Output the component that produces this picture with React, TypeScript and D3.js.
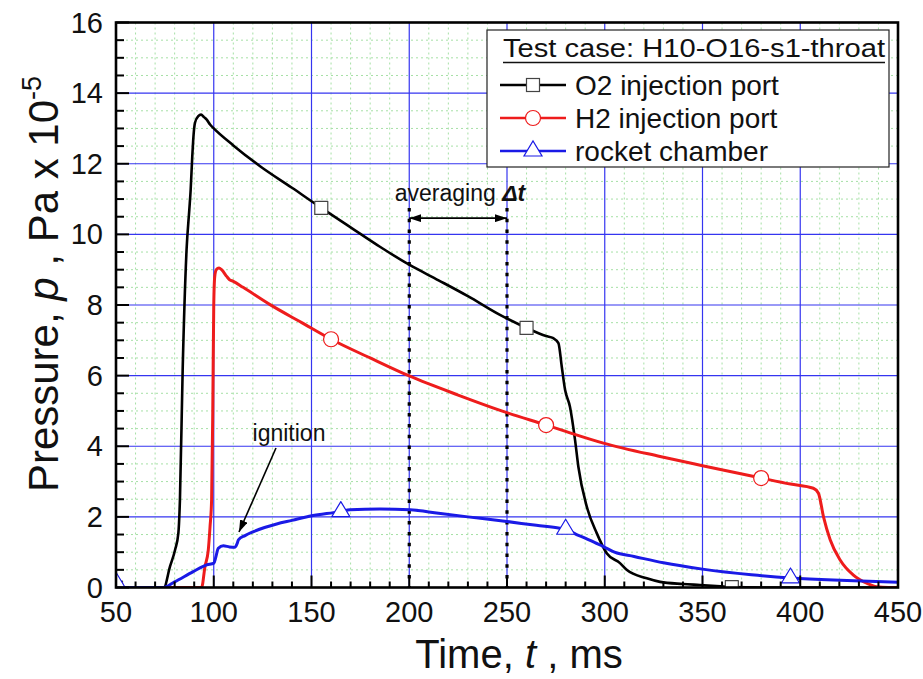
import React from "react";
import * as d3 from "d3";

// ---- data (time in ms, pressure in 1e5 Pa) ----
const o2Time = [50, 55, 60, 65, 70, 74.5, 77.6, 80.2, 81.9, 82.7, 84.1, 86.1, 87.5, 88.2, 89, 89.5, 90.4, 92.1, 93.5, 95, 96.4, 98.1, 100, 110, 123.7, 140, 155, 170, 185, 200, 215, 230, 246.4, 260, 270, 273.7, 276.3, 278, 279.7, 282.2, 284.8, 286.5, 290.8, 295.9, 301, 307.8, 311.2, 321.5, 328.3, 340, 348.7, 362.3, 365, 380, 400, 420, 450];
const o2Pres = [0, 0, 0, 0, 0, 0, 0.59, 1.06, 1.54, 2.48, 6.16, 9.57, 10.7, 11.27, 12.2, 12.68, 13.16, 13.35, 13.39, 13.32, 13.25, 13.11, 13.0, 12.52, 11.93, 11.32, 10.75, 10.2, 9.65, 9.14, 8.7, 8.25, 7.72, 7.35, 7.12, 7.06, 6.92, 6.26, 5.6, 5.12, 4.18, 3.42, 2.29, 1.54, 0.97, 0.69, 0.5, 0.26, 0.16, 0.1, 0.07, 0.02, 0.01, 0, 0, 0, 0];

const h2Time = [50, 60, 70, 80, 90, 93.8, 95.5, 97.2, 98.1, 98.9, 99.5, 100, 100.5, 101.3, 102.7, 104, 106.6, 108, 110, 115, 128.8, 145, 160, 180, 200, 225, 250, 270, 280, 299.3, 328.3, 350, 380, 395, 406.7, 409.3, 411.9, 415.3, 420.4, 427.2, 434, 439.1, 445, 450];
const h2Pres = [0, 0, 0, 0, 0, 0, 0.59, 1.06, 1.72, 2.48, 5.0, 8.0, 8.8, 9.0, 9.05, 9.0, 8.81, 8.72, 8.67, 8.5, 8.01, 7.5, 7.03, 6.5, 5.99, 5.45, 4.95, 4.6, 4.42, 4.09, 3.71, 3.45, 3.1, 2.93, 2.81, 2.67, 2.0, 1.35, 0.78, 0.35, 0.12, 0.02, 0, 0];

const rcTime = [50, 53.7, 60, 70, 74.2, 80, 89.5, 96.4, 100.1, 101, 102.3, 104.9, 108, 110.9, 112, 112.6, 116, 120.3, 126, 132.2, 140, 150.1, 161.2, 165, 169.7, 185, 200.4, 215, 230, 249.9, 265, 277, 280, 285.6, 290, 295, 299.3, 305, 315, 330, 350, 375, 395, 417, 435, 450];
const rcPres = [0.15, 0, 0, 0, 0, 0.16, 0.45, 0.64, 0.69, 0.85, 1.11, 1.18, 1.15, 1.14, 1.25, 1.35, 1.47, 1.58, 1.7, 1.8, 1.9, 2.03, 2.12, 2.15, 2.2, 2.22, 2.2, 2.1, 2.0, 1.87, 1.76, 1.68, 1.65, 1.5, 1.4, 1.27, 1.16, 1.0, 0.88, 0.7, 0.52, 0.36, 0.27, 0.21, 0.18, 0.15];

const o2Markers = [50, 155, 260, 365];
const h2Markers = [50, 160, 270, 380];
const rcMarkers = [50, 165, 280, 395];

const xTicks = [50, 100, 150, 200, 250, 300, 350, 400, 450];
const yTicks = [0, 2, 4, 6, 8, 10, 12, 14, 16];
const avgWindow = [200, 250];
const avgArrowP = 10.46;
const avgLineTopP = 10.75;

const legendTitle = "Test case: H10-O16-s1-throat";
const seriesNames = ["O2 injection port", "H2 injection port", "rocket chamber"];

const W = 923, H = 679;
const L = 116, R = 898, T = 22.5, B = 587.5;

const x = d3.scaleLinear().domain([50, 450]).range([L, R]);
const y = d3.scaleLinear().domain([0, 16]).range([B, T]);

function interp(ts: number[], ps: number[], t: number) {
  const i = d3.bisectLeft(ts, t);
  if (i <= 0) return ps[0];
  if (i >= ts.length) return ps[ps.length - 1];
  const t0 = ts[i - 1], t1 = ts[i];
  if (t1 === t0) return ps[i];
  return ps[i - 1] + ((ps[i] - ps[i - 1]) * (t - t0)) / (t1 - t0);
}

const line = d3
  .line<[number, number]>()
  .x((d) => x(d[0]))
  .y((d) => y(d[1]))
  .curve(d3.curveMonotoneX);

const BLACK = "#000000";
const RED = "#ee1c1c";
const BLUE = "#1a1ae6";

function Square({ cx, cy }: { cx: number; cy: number }) {
  return <rect x={cx - 6.5} y={cy - 6.5} width={13} height={13} fill="#fff" stroke="#444" strokeWidth={1.2} />;
}
function Circ({ cx, cy }: { cx: number; cy: number }) {
  return <circle cx={cx} cy={cy} r={7.5} fill="#fff" stroke={RED} strokeWidth={1.2} />;
}
function Tri({ cx, cy }: { cx: number; cy: number }) {
  const p = `${cx - 9},${cy + 5} ${cx + 9},${cy + 5} ${cx},${cy - 10}`;
  return <polygon points={p} fill="#fff" stroke={BLUE} strokeWidth={1.2} />;
}

export default function App() {
  const minorX = d3.range(60, 450, 10).filter((t) => t % 50 !== 0);
  const minorY = d3.range(0.5, 16, 0.5).filter((v) => v % 2 !== 0);
  const majorXGrid = xTicks.filter((t) => t > 50 && t < 450);
  const majorYGrid = yTicks.filter((v) => v > 0 && v < 16);

  const o2 = o2Time.map((t, i) => [t, o2Pres[i]] as [number, number]);
  const h2 = h2Time.map((t, i) => [t, h2Pres[i]] as [number, number]);
  const rc = rcTime.map((t, i) => [t, rcPres[i]] as [number, number]);

  const font = "Liberation Sans, Arial, sans-serif";

  const legX = 487, legY = 30, legW = 402, legH = 137;
  const rowY = [85, 118, 151];

  return (
    <svg width={W} height={H} style={{ position: "absolute", left: 0, top: 0, background: "#fff" }} fontFamily={font}>
      <defs>
        <clipPath id="plot">
          <rect x={L} y={T} width={R - L} height={B - T} />
        </clipPath>
        <marker id="ah" viewBox="0 0 12 8" refX="12" refY="4" markerWidth="12" markerHeight="8" markerUnits="userSpaceOnUse" orient="auto-start-reverse">
          <path d="M0,0 L12,4 L0,8 Z" fill="#000" />
        </marker>
      </defs>

      {/* minor grid */}
      <g stroke="#a6e0a6" strokeWidth={1} strokeDasharray="2,3">
        {minorX.map((t) => (
          <line key={"mx" + t} x1={x(t)} x2={x(t)} y1={T} y2={B} />
        ))}
        {minorY.map((v) => (
          <line key={"my" + v} x1={L} x2={R} y1={y(v)} y2={y(v)} />
        ))}
      </g>
      {/* major grid */}
      <g stroke="#3535f0" strokeWidth={1.2}>
        {majorXGrid.map((t) => (
          <line key={"gx" + t} x1={x(t)} x2={x(t)} y1={T} y2={B} />
        ))}
        {majorYGrid.map((v) => (
          <line key={"gy" + v} x1={L} x2={R} y1={y(v)} y2={y(v)} />
        ))}
      </g>

      {/* averaging window dotted lines */}
      <g stroke="#000" strokeWidth={3.2} strokeDasharray="3.5,7.3">
        {avgWindow.map((t) => (
          <line key={"av" + t} x1={x(t)} x2={x(t)} y1={y(avgLineTopP)} y2={B} />
        ))}
      </g>
      <line x1={x(avgWindow[0])} x2={x(avgWindow[1])} y1={y(avgArrowP)} y2={y(avgArrowP)} stroke="#000" strokeWidth={1.8} markerStart="url(#ah)" markerEnd="url(#ah)" />
      <text x={460} y={201} fontSize={23} textAnchor="middle" fill="#111">
        averaging <tspan fontWeight="bold" fontStyle="italic">Δt</tspan>
      </text>

      {/* curves */}
      <g clipPath="url(#plot)" fill="none" strokeLinejoin="round">
        <path d={line(o2) || ""} stroke={BLACK} strokeWidth={2.6} />
        <path d={line(h2) || ""} stroke={RED} strokeWidth={3} />
        <path d={line(rc) || ""} stroke={BLUE} strokeWidth={3} />
        {o2Markers.map((t) => (
          <Square key={"sq" + t} cx={x(t)} cy={y(interp(o2Time, o2Pres, t))} />
        ))}
        {h2Markers.map((t) => (
          <Circ key={"ci" + t} cx={x(t)} cy={y(interp(h2Time, h2Pres, t))} />
        ))}
        {rcMarkers.map((t) => (
          <Tri key={"tr" + t} cx={x(t)} cy={y(interp(rcTime, rcPres, t))} />
        ))}
      </g>

      {/* ignition annotation */}
      <text x={289} y={441} fontSize={23} textAnchor="middle" fill="#111">ignition</text>
      <line x1={276} y1={448} x2={239} y2={532} stroke="#000" strokeWidth={1.6} markerEnd="url(#ah)" />

      {/* ticks */}
      <g stroke="#000" strokeWidth={2}>
        {d3.range(50, 451, 10).map((t) => (
          <line key={"tx" + t} x1={x(t)} x2={x(t)} y1={B} y2={B - (t % 50 === 0 ? 12 : 6)} />
        ))}
        {d3.range(0, 16.01, 0.5).map((v) => (
          <line key={"ty" + v} x1={L} x2={L + (v % 2 === 0 ? 13 : 8)} y1={y(v)} y2={y(v)} />
        ))}
      </g>

      {/* frame */}
      <rect x={L} y={T} width={R - L} height={B - T} fill="none" stroke="#000" strokeWidth={2.6} />

      {/* tick labels */}
      <g fontSize={29} fill="#111">
        {xTicks.map((t) => (
          <text key={"lx" + t} x={x(t)} y={622} textAnchor="middle">{t}</text>
        ))}
        {yTicks.map((v) => (
          <text key={"ly" + v} x={103} y={y(v) + 10} textAnchor="end">{v}</text>
        ))}
      </g>

      {/* axis titles */}
      <text x={519} y={668} fontSize={40} textAnchor="middle" fill="#111">
        Time, <tspan fontStyle="italic">t</tspan> , ms
      </text>
      <text transform="translate(58,284) rotate(-90)" fontSize={42} textAnchor="middle" fill="#111">
        Pressure, <tspan fontStyle="italic">p</tspan> , Pa x 10<tspan fontSize={27} dy={-17}>-5</tspan>
      </text>

      {/* legend */}
      <rect x={legX} y={legY} width={legW} height={legH} fill="#fff" stroke="#222" strokeWidth={1.2} />
      <text x={503} y={57} fontSize={25} textLength={382} lengthAdjust="spacingAndGlyphs" fill="#111">{legendTitle}</text>
      <line x1={503} x2={885} y1={62.5} y2={62.5} stroke="#111" strokeWidth={1.3} />
      {seriesNames.map((name, i) => {
        const color = [BLACK, RED, BLUE][i];
        const cy = rowY[i];
        const cx = 533;
        return (
          <g key={name}>
            <line x1={500} x2={566} y1={cy} y2={cy} stroke={color} strokeWidth={2.6} />
            {i === 0 && <Square cx={cx} cy={cy} />}
            {i === 1 && <Circ cx={cx} cy={cy} />}
            {i === 2 && <Tri cx={cx} cy={cy} />}
            <text x={575} y={cy + 9.5} fontSize={28} fill="#111">{name}</text>
          </g>
        );
      })}
    </svg>
  );
}
